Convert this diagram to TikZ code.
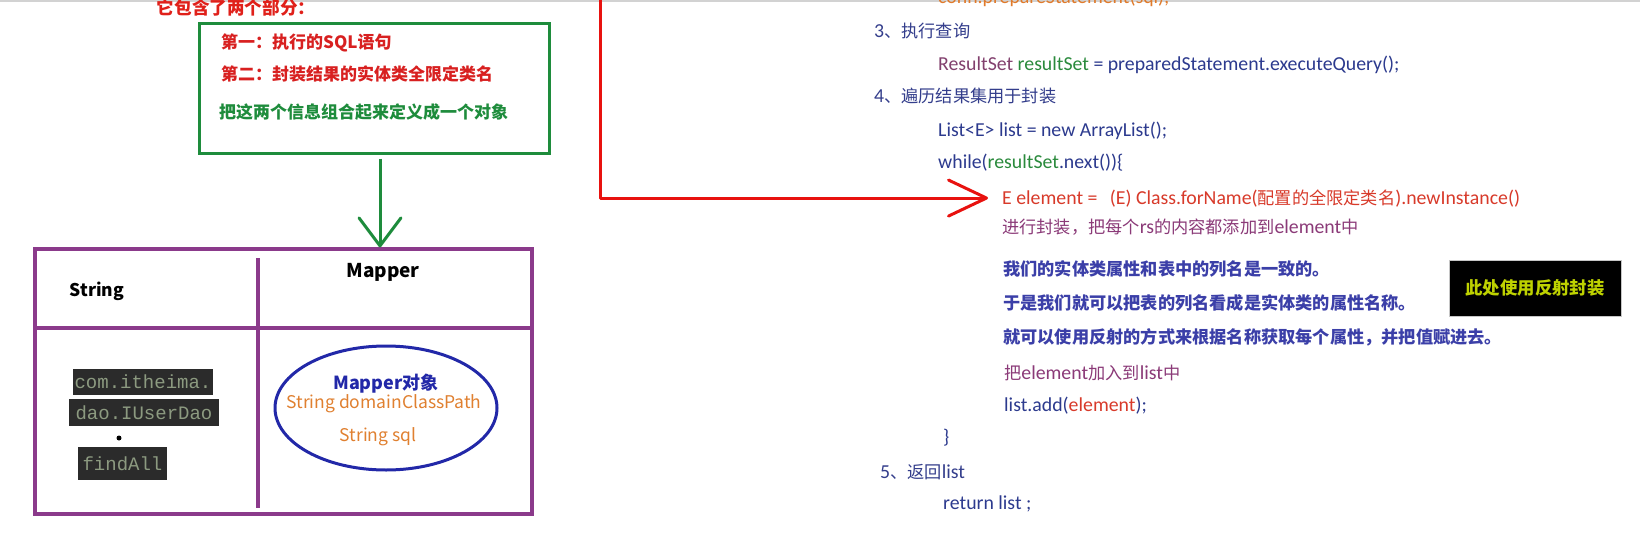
\documentclass[tikz,border=0pt]{standalone}
\usepackage{fontspec}
\setmainfont{Carlito}
\newfontfamily\cjk{Noto Sans CJK SC}
\newfontfamily\monof{Liberation Mono}
\usetikzlibrary{shapes.geometric,arrows.meta}
\definecolor{titlered}{HTML}{E0201A}
\definecolor{boxred}{HTML}{D82020}
\definecolor{boxgreen}{HTML}{1E8C3C}
\definecolor{tblpurple}{HTML}{8B3A8B}
\definecolor{ellblue}{HTML}{2228A8}
\definecolor{fieldorange}{HTML}{E08030}
\definecolor{codebg}{HTML}{2B2B2B}
\definecolor{codefg}{HTML}{8C9A80}
\definecolor{stepblue}{HTML}{343E8C}
\definecolor{codeblue}{HTML}{2C3A8E}
\definecolor{rspurple}{HTML}{82406E}
\definecolor{rsgreen}{HTML}{2A8A3C}
\definecolor{elred}{HTML}{D83A2A}
\definecolor{notepurple}{HTML}{8B3A78}
\definecolor{noteblue}{HTML}{3B3FA8}
\definecolor{partorange}{HTML}{E07A2A}
\definecolor{arrowred}{HTML}{E8120F}
\definecolor{hintyellow}{HTML}{BED200}
\newcommand\fs[1]{\fontsize{#1}{#1}\selectfont}
\newcommand\zh[1]{{\fs{17.2}\cjk #1}}
\newcommand\zhb[1]{{\cjk\bfseries #1}}
\begin{document}
\begin{tikzpicture}[x=1pt,y=-1pt,
  rtxt/.style={anchor=base west,inner sep=0,font=\fs{19.8}},
  ltxt/.style={anchor=base west,inner sep=0,font=\fs{17}},
  hdr/.style={inner sep=0,font=\cjk\bfseries,text=black},
  codebox/.style={fill=codebg,text=codefg,inner sep=0,font=\fs{19}\monof},
  fieldtxt/.style={inner sep=0,font=\fs{17.5}\cjk,text=fieldorange},
  thickred/.style={draw=arrowred,line width=3pt,line cap=round,line join=round},
]
\useasboundingbox (0,0) rectangle (1640,538);
\clip (0,0) rectangle (1640,538);
\fill[white] (0,0) rectangle (1640,538);
\draw[gray!35,line width=1.5pt] (0,0.8) -- (1640,0.8);

% ---------- left part ----------
\node[inner sep=0,font=\fs{17.6},text=titlered] (title) at (236,8) {\zhb{它包含了两个部分：}};
\node[draw=boxgreen,line width=3pt,minimum width=350pt,minimum height=130pt,inner sep=0] (gbox) at (374,88) {};
\node[ltxt,text=boxred] (p1) at (221,48) {\zhb{第一：执行的SQL语句}};
\node[ltxt,text=boxred] (p2) at (221,80) {\zhb{第二：封装结果的实体类全限定类名}};
\node[ltxt,text=boxgreen] (p3) at (219,118) {\zhb{把这两个信息组合起来定义成一个对象}};

\node[draw=tblpurple,line width=3.2pt,minimum width=497pt,minimum height=265pt,inner sep=0] (tbl) at (283.5,381.5) {};
\draw[tblpurple,line width=3.2pt] (35,328) -- (532,328);
\draw[tblpurple,line width=3.2pt] (258,258) -- (258,508);

\draw[boxgreen,line width=3pt,shorten <=4pt,-{Straight Barb[length=28pt,width=42pt,round]}]
  ([xshift=6pt]gbox.south) -- ([xshift=6pt]gbox.south |- tbl.north);

\node[hdr,font=\fs{17.5}\cjk\bfseries] (hstr) at (97,291) {String};
\node[hdr,font=\fs{19}\cjk\bfseries] (hmap) at (383,272) {Mapper};

\node[codebox,minimum width=140pt,minimum height=26pt] (c1) at (143,382) {com.itheima.};
\node[codebox,minimum width=150pt,minimum height=27pt] (c2) at (144,412.5) {dao.IUserDao};
\node[fill=black,circle,inner sep=0,minimum size=5pt] (cdot) at (119,438) {};
\node[codebox,minimum width=89pt,minimum height=33pt] (c3) at (122.5,463.5) {findAll};

\node[ellipse,draw=ellblue,line width=3pt,minimum width=222pt,minimum height=124pt,inner sep=0] (mobj) at (386,408) {};
\node[inner sep=0,font=\fs{18},text=ellblue] (mtitle) at (386,384) {\zhb{Mapper对象}};
\node[fieldtxt] (mf1) at (384,404) {String domainClassPath};
\node[fieldtxt] (mf2) at (378,437) {String sql};

% ---------- right part ----------
\node[rtxt,text=partorange] (conn) at (938,4) {conn.prepareStatement(sql);};
\node[rtxt,text=stepblue] (s3) at (874,37) {3\zh{、执行查询}};
\node[rtxt,text=codeblue] (rs) at (938,70) {\textcolor{rspurple}{ResultSet} \textcolor{rsgreen}{resultSet} = preparedStatement.executeQuery();};
\node[rtxt,text=stepblue] (s4) at (874,102) {4\zh{、遍历结果集用于封装}};
\node[rtxt,text=codeblue] (lst) at (938,136) {List<E> list = new ArrayList();};
\node[rtxt,text=codeblue] (wh) at (938,168) {while(\textcolor{rsgreen}{resultSet}.next())\{};
\node[rtxt,text=elred] (eel) at (1002,204) {E element = \hspace{8pt}(E) Class.forName(\zh{配置的全限定类名}).newInstance()};
\node[rtxt,text=notepurple] (pack) at (1002,233) {\zh{进行封装，把每个}rs\zh{的内容都添加到}element\zh{中}};
\node[rtxt,text=noteblue,font=\fs{17.2}] (n1) at (1003,275) {\zhb{我们的实体类属性和表中的列名是一致的。}};
\node[rtxt,text=noteblue,font=\fs{17.2}] (n2) at (1003,309) {\zhb{于是我们就可以把表的列名看成是实体类的属性名称。}};
\node[rtxt,text=noteblue,font=\fs{17.2}] (n3) at (1003,343) {\zhb{就可以使用反射的方式来根据名称获取每个属性，并把值赋进去。}};
\node[rtxt,text=notepurple] (addc) at (1004,379) {\zh{把}element\zh{加入到}list\zh{中}};
\node[rtxt,text=codeblue] (add) at (1004,411) {list.add(\textcolor{elred}{element});};
\node[rtxt,text=codeblue] (brace) at (943,443) {\}};
\node[rtxt,text=stepblue] (s5) at (880,478) {5\zh{、返回}list};
\node[rtxt,text=codeblue] (ret) at (943,509) {return list ;};

\node[fill=black,draw=gray!45,line width=0.8pt,minimum width=172pt,minimum height=56pt,inner sep=0,text=hintyellow,font=\fs{17.4}] (hint) at (1535,288) {\zhb{此处使用反射封装}};

% red connector
\coordinate (rtop) at (600,-4);
\draw[thickred,-{Straight Barb[length=38pt,width=36pt,round]}] (rtop) |- ([xshift=-14pt]eel.west);
\end{tikzpicture}
\end{document}
